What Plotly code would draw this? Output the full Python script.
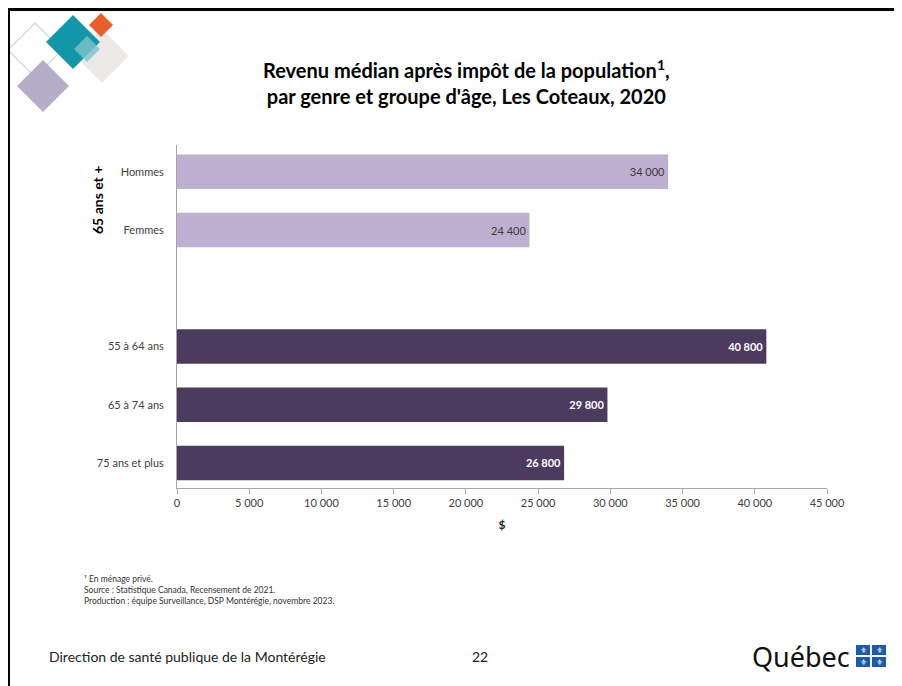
import plotly.graph_objects as go

# ---- data ----
senior_labels = ["Hommes", "Femmes"]
senior_values = [34000, 24400]
age_labels = ["55 à 64 ans", "65 à 74 ans", "75 ans et plus"]
age_values = [40800, 29800, 26800]
category_order = ["75 ans et plus", "65 à 74 ans", "55 à 64 ans", " ", "Femmes", "Hommes"]
x_ticks = [0, 5000, 10000, 15000, 20000, 25000, 30000, 35000, 40000, 45000]

FONT = "Lato, Calibri, Carlito, sans-serif"
OFF = 8  # page body margin
W_FIG, H_FIG = 902 - OFF, 686 - OFF
# plot area in screen (reference) pixels
L, R, T, B = 177, 827, 145, 488


def px(x):
    return (x - L) / (R - L)


def py(y):
    return (B - y) / (B - T)


fig = go.Figure()
fig.add_trace(go.Bar(
    y=senior_labels, x=senior_values, orientation="h",
    marker=dict(color="#BEB0D1", line=dict(width=0)),
    width=0.59,
    text=senior_values, texttemplate="%{x:,}", textposition="inside",
    insidetextanchor="end",
    textfont=dict(family=FONT, size=11, color="#3a3a3a"),
    hoverinfo="skip", showlegend=False,
))
fig.add_trace(go.Bar(
    y=age_labels, x=age_values, orientation="h",
    marker=dict(color="#4C3B5F", line=dict(width=0)),
    width=0.59,
    text=age_values, texttemplate="<b>%{x:,}</b>", textposition="inside",
    insidetextanchor="end",
    textfont=dict(family=FONT, size=11, color="white"),
    hoverinfo="skip", showlegend=False,
))

shapes = []


def diamond(cx, cy, h, color=None, line=None, opacity=1.0):
    path = (f"M {px(cx - h)} {py(cy)} L {px(cx)} {py(cy - h)} "
            f"L {px(cx + h)} {py(cy)} L {px(cx)} {py(cy + h)} Z")
    shapes.append(dict(type="path", xref="paper", yref="paper", path=path,
                       fillcolor=color if color else "rgba(0,0,0,0)",
                       line=line if line else dict(width=0), opacity=opacity, layer="above"))


# logo diamonds
diamond(35, 50, 27, None, dict(color="#D6DDD2", width=1.5))
diamond(102, 56, 27, "#ECE9E8")
diamond(43, 86, 26, "#B5AEC8")
diamond(73, 42, 27, "#1396A8")
diamond(101, 25, 12, "#E6602B")
diamond(87, 49, 13, "#7EC3CB", opacity=0.8)

# slide border
shapes.append(dict(type="line", xref="paper", yref="paper",
                   x0=px(8), x1=px(902), y0=py(9.5), y1=py(9.5),
                   line=dict(color="black", width=3)))
shapes.append(dict(type="line", xref="paper", yref="paper",
                   x0=px(8.5), x1=px(8.5), y0=py(8), y1=py(686),
                   line=dict(color="black", width=3)))

# Quebec flag squares
flag_cells = [(856, 645), (872, 645), (856, 657), (872, 657)]
for (qx, qy) in flag_cells:
    shapes.append(dict(type="rect", xref="paper", yref="paper",
                       x0=px(qx), x1=px(qx + 14), y0=py(qy), y1=py(qy + 10),
                       fillcolor="#1E5AA8", line=dict(width=0)))

annotations = [
    dict(text="<b>Revenu médian après impôt de la population<sup>1</sup>,<br>par genre et groupe d'âge, Les Coteaux, 2020</b>",
         xref="paper", yref="paper", x=px(466), y=py(82), xanchor="center", yanchor="middle",
         showarrow=False, font=dict(family=FONT, size=20, color="black"), align="center"),
    dict(text="<b>65 ans et +</b>", xref="paper", yref="paper", x=px(97), y=py(200),
         textangle=-90, showarrow=False, xanchor="center", yanchor="middle",
         font=dict(family=FONT, size=14, color="black")),
    dict(text="¹ En ménage privé.<br>Source : Statistique Canada, Recensement de 2021.<br>Production : équipe Surveillance, DSP Montérégie, novembre 2023.",
         xref="paper", yref="paper", x=px(82), y=py(572), xanchor="left", yanchor="top",
         showarrow=False, align="left", font=dict(family=FONT, size=8.5, color="#333333")),
    dict(text="Direction de santé publique de la Montérégie", xref="paper", yref="paper",
         x=px(47), y=py(656), xanchor="left", yanchor="middle", showarrow=False,
         font=dict(family=FONT, size=14, color="#222222")),
    dict(text="22", xref="paper", yref="paper", x=px(480), y=py(656), xanchor="center",
         yanchor="middle", showarrow=False, font=dict(family=FONT, size=14, color="#222222")),
    dict(text="Québec", xref="paper", yref="paper", x=px(852), y=py(656), xanchor="right",
         yanchor="middle", showarrow=False,
         font=dict(family="Noto Sans, sans-serif", size=27, color="#111111")),
]
for (qx, qy) in flag_cells:
    annotations.append(dict(text="⚜", xref="paper", yref="paper", x=px(qx + 7), y=py(qy + 5),
                            xanchor="center", yanchor="middle", showarrow=False,
                            font=dict(family="DejaVu Sans", size=8, color="white")))

fig.update_layout(
    width=W_FIG, height=H_FIG,
    margin=dict(l=L - OFF, r=902 - R, t=T - OFF, b=686 - B, autoexpand=False),
    paper_bgcolor="white", plot_bgcolor="white",
    barmode="overlay",
    separators=", ",
    font=dict(family=FONT, size=11, color="#404040"),
    shapes=shapes, annotations=annotations,
    xaxis=dict(range=[0, 45000], tickvals=x_ticks, tickformat=",", showgrid=False,
               zeroline=False, showline=True, linecolor="#A6A6A6", linewidth=1,
               ticks="outside", ticklen=5, tickcolor="#A6A6A6",
               tickfont=dict(family=FONT, size=11, color="#404040"),
               title=dict(text="<b>$</b>", font=dict(family=FONT, size=12, color="#222222"), standoff=12)),
    yaxis=dict(type="category", categoryorder="array", categoryarray=category_order,
               range=[-0.43, 5.46], showgrid=False, zeroline=False, showline=True,
               linecolor="#A6A6A6", linewidth=1, ticks="", ticklabelstandoff=10,
               tickfont=dict(family=FONT, size=11, color="#404040")),
)

fig.write_html("out.html")
